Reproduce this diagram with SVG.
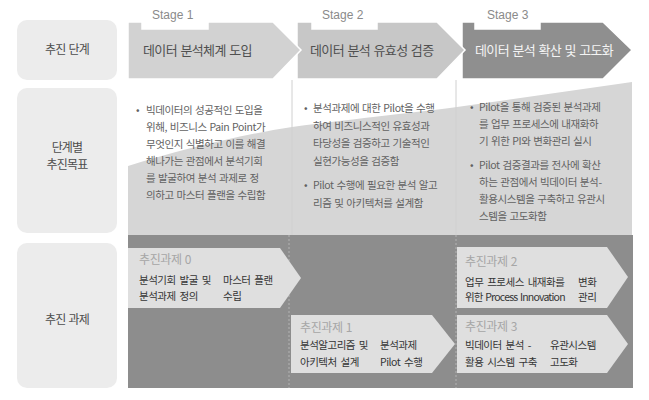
<svg xmlns="http://www.w3.org/2000/svg" width="649" height="400" viewBox="0 0 649 400">
<style>
text{font-family:"Noto Sans CJK KR","Noto Sans",sans-serif}
.lbl{font-size:12px;fill:#4d4d4d;text-anchor:middle;letter-spacing:-0.8px;word-spacing:1px}
.box{fill:#ececec}
.stg{font-family:"Liberation Sans",Arial,sans-serif;font-size:12px;fill:#8a8a8a}
.ttl{font-size:13px;fill:#505050;letter-spacing:-0.6px;word-spacing:1px}
.ttl3{fill:#f4f4f4}
.bul{font-size:10.5px;fill:#626262;letter-spacing:-0.4px;word-spacing:0.8px}
.tk{fill:#dfdfdf}
.tkl{font-size:12px;fill:#a6a6a6;letter-spacing:-0.4px;word-spacing:1px}
.tkt{font-size:10.5px;fill:#353535;letter-spacing:-0.5px;word-spacing:2px}
.tight{letter-spacing:-0.8px;word-spacing:1px}
.div1{stroke:#d0d0d0;stroke-width:1}
.div2{stroke:#b3b3b3;stroke-width:1;stroke-dasharray:2 2}
</style>
<rect width="649" height="400" fill="#ffffff"/>
<g id="background">
<path d="M128,235 V166 C180,150 240,135 292,127 C360,118 420,112 457,107 L632,82 V235 Z" fill="#d6d6d6"/>
<rect x="128" y="235" width="505" height="153" fill="#8d8d8d"/>
<line class="div1" x1="292" y1="80" x2="292" y2="235"/>
<line class="div1" x1="456" y1="80" x2="456" y2="235"/>
<line class="div2" x1="289" y1="235" x2="289" y2="388"/>
<line class="div2" x1="456" y1="235" x2="456" y2="388"/>
</g>
<g id="row-labels">
<g id="label-stage"><rect class="box" x="17" y="20" width="100" height="60" rx="10"/><text class="lbl" x="67" y="54">추진 단계</text></g>
<g id="label-goal"><rect class="box" x="17" y="88" width="100" height="145" rx="10"/><text class="lbl" x="67" y="152">단계별</text><text class="lbl" x="67" y="169">추진목표</text></g>
<g id="label-task"><rect class="box" x="17" y="243" width="100" height="145" rx="10"/><text class="lbl" x="67" y="324">추진 과제</text></g>
</g>
<g id="stage3">
<polygon points="462,22 475,22 475,29 540,29 540,22 603,22 632,50 603,79 462,79" fill="#8f8f8f" stroke="#fff" stroke-width="1.5"/>
<text class="stg" x="487" y="19">Stage 3</text>
<text class="ttl ttl3" x="475" y="55">데이터 분석 확산 및 고도화</text>
</g>
<g id="stage2">
<polygon points="297,22 312,22 312,29 377,29 377,22 437,22 465,50 437,79 297,79" fill="#c7c7c7" stroke="#fff" stroke-width="1.5"/>
<text class="stg" x="322" y="19">Stage 2</text>
<text class="ttl" x="310" y="55">데이터 분석 유효성 검증</text>
</g>
<g id="stage1">
<polygon points="128,22 142,22 142,29 208,29 208,22 273,22 301,50 273,79 128,79" fill="#d2d2d2" stroke="#fff" stroke-width="1.5"/>
<text class="stg" x="152" y="19">Stage 1</text>
<text class="ttl" x="143" y="55">데이터 분석체계 도입</text>
</g>
<g id="goal1">
<text class="bul" x="136" y="114">•</text>
<text class="bul" x="146" y="114">빅데이터의 성공적인 도입을</text>
<text class="bul" x="146" y="131">위해, 비즈니스 Pain Point가</text>
<text class="bul" x="146" y="148">무엇인지 식별하고 이를 해결</text>
<text class="bul" x="146" y="165">해나가는 관점에서 분석기회</text>
<text class="bul" x="146" y="182">를 발굴하여 분석 과제로 정</text>
<text class="bul" x="146" y="199">의하고 마스터 플랜을 수립함</text>
</g>
<g id="goal2">
<text class="bul" x="304" y="112">•</text>
<text class="bul" x="313" y="112">분석과제에 대한 Pilot을 수행</text>
<text class="bul" x="313" y="129.5">하여 비즈니스적인 유효성과</text>
<text class="bul" x="313" y="147">타당성을 검증하고 기술적인</text>
<text class="bul" x="313" y="164.5">실현가능성을 검증함</text>
<text class="bul" x="304" y="189">•</text>
<text class="bul" x="313" y="189">Pilot 수행에 필요한 분석 알고</text>
<text class="bul" x="313" y="206.5">리즘 및 아키텍처를 설계함</text>
</g>
<g id="goal3">
<text class="bul" x="470" y="111">•</text>
<text class="bul" x="479" y="111">Pilot을 통해 검증된 분석과제</text>
<text class="bul" x="479" y="128">를 업무 프로세스에 내재화하</text>
<text class="bul" x="479" y="145">기 위한 PI와 변화관리 실시</text>
<text class="bul" x="470" y="169">•</text>
<text class="bul" x="479" y="169">Pilot 검증결과를 전사에 확산</text>
<text class="bul" x="479" y="186">하는 관점에서 빅데이터 분석-</text>
<text class="bul" x="479" y="203">활용시스템을 구축하고 유관시</text>
<text class="bul" x="479" y="220">스템을 고도화함</text>
</g>
<g id="task0">
<polygon class="tk" points="128,248 280,248 301,278 280,308 128,308"/>
<text class="tkl" x="139" y="264">추진과제 0</text>
<text class="tkt" x="139" y="284">분석기회 발굴 및</text>
<text class="tkt" x="139" y="300">분석과제 정의</text>
<text class="tkt" x="223" y="284">마스터 플랜</text>
<text class="tkt" x="223" y="300">수립</text>
</g>
<g id="task1">
<polygon class="tk" points="291,315 432,315 455,344 432,373 291,373"/>
<text class="tkl" x="300" y="332">추진과제 1</text>
<text class="tkt" x="300" y="349">분석알고리즘 및</text>
<text class="tkt" x="300" y="366">아키텍처 설계</text>
<text class="tkt" x="380" y="349">분석과제</text>
<text class="tkt" x="380" y="366">Pilot 수행</text>
</g>
<g id="task2">
<polygon class="tk" points="457,247 607,247 628,277 607,308 457,308"/>
<text class="tkl" x="465" y="266">추진과제 2</text>
<text class="tkt" x="465" y="286">업무 프로세스 내재화를</text>
<text class="tkt tight" x="465" y="301">위한 Process Innovation</text>
<text class="tkt" x="578" y="286">변화</text>
<text class="tkt" x="578" y="301">관리</text>
</g>
<g id="task3">
<polygon class="tk" points="457,315 607,315 628,344 607,373 457,373"/>
<text class="tkl" x="465" y="331">추진과제 3</text>
<text class="tkt" x="465" y="349">빅데이터 분석 -</text>
<text class="tkt" x="465" y="366">활용 시스템 구축</text>
<text class="tkt" x="550" y="349">유관시스템</text>
<text class="tkt" x="550" y="366">고도화</text>
</g>
<g id="connectors"></g>
</svg>
